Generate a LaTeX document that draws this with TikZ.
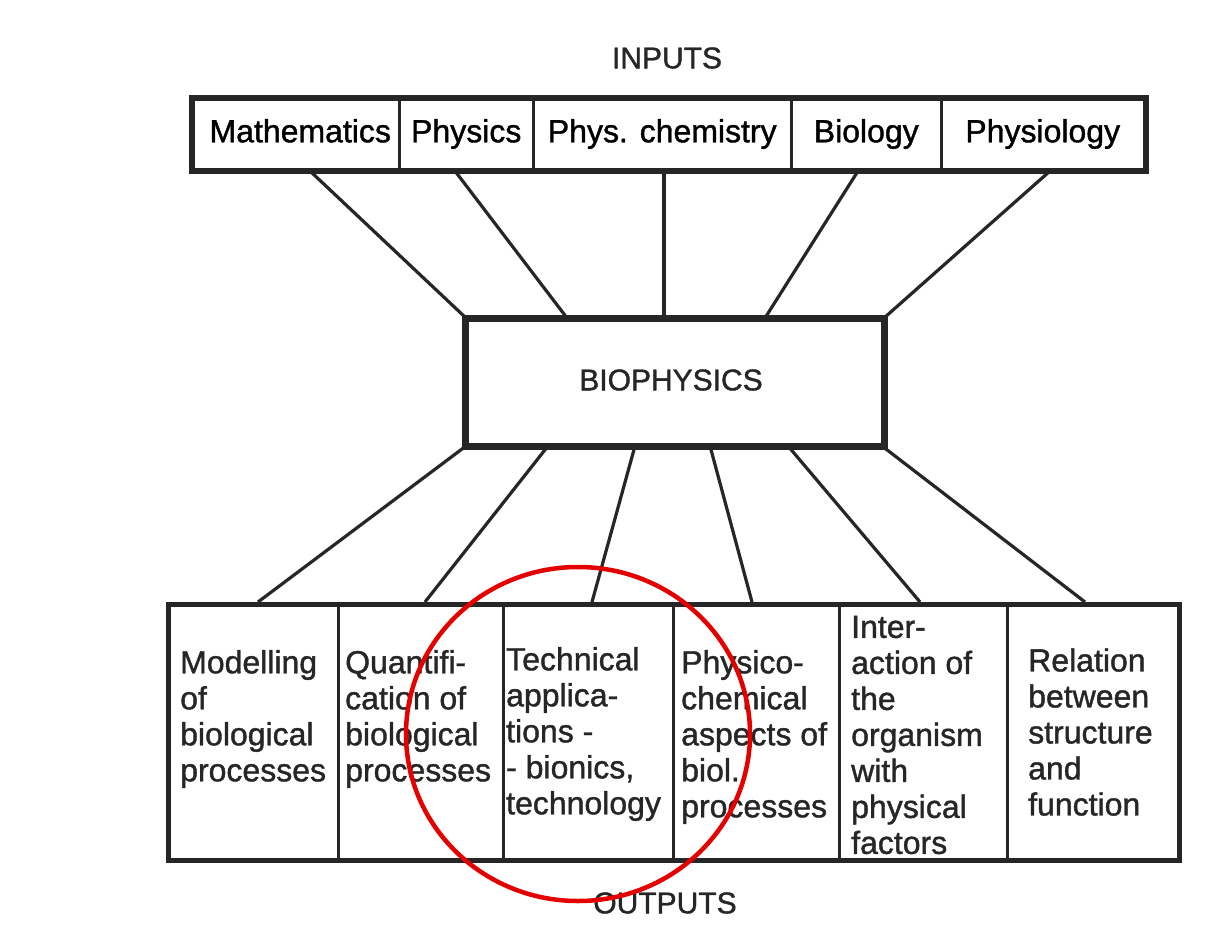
\documentclass[tikz,border=0pt]{standalone}
\usepackage{fontspec}
\setmainfont{Liberation Sans}[FakeBold=1.2]
\usetikzlibrary{fit}
\begin{document}
\begin{tikzpicture}[x=1pt,y=-1pt,
  cellbox/.style={draw=black!85, line width=2.5pt, inner sep=0pt, anchor=north west},
  topcell/.style={cellbox, minimum height=70pt, text height=23pt, text depth=7pt, font=\fontsize{32}{36}\selectfont},
  botcell/.style={cellbox, minimum height=254pt},
  celltext/.style={anchor=west, inner sep=0pt, align=left, text=black!85, font=\fontsize{32}{36}\selectfont},
  title/.style={inner sep=0pt, text=black!85, font=\fontsize{30}{36}\selectfont},
  link/.style={draw=black!85, line width=3.2pt},
  frame/.style={draw=black!85, inner sep=0pt}
]
\useasboundingbox (0,0) rectangle (1226,948);
\fill[white] (0,0) rectangle (1226,948);

% titles
\node[title] (inputs) at (667,58) {INPUTS};
\node[title] (outputs) at (665,903) {OUTPUTS};

% top cells
\node[topcell, minimum width=206pt] (math) at (192,98) {\hspace*{8pt}Mathematics};
\node[topcell, minimum width=134pt] (phys) at (398,98) {Physics};
\node[topcell, minimum width=258pt] (pchem) at (532,98) {Phys. chemistry};
\node[topcell, minimum width=150pt] (bio) at (790,98) {Biology};
\node[topcell, minimum width=203pt] (physio) at (940,98) {Physiology};
\node[frame, line width=6pt, fit=(math)(physio)] (inbox) {};

% biophysics
\node[frame, line width=7pt, minimum width=419pt, minimum height=128pt] (biophys) at (674.5,382) {};
\node[title] (biolabel) at (671,380) {BIOPHYSICS};

% bottom cells
\node[botcell, minimum width=169pt] (o1) at (168,604) {};
\node[botcell, minimum width=165pt] (o2) at (337,604) {};
\node[botcell, minimum width=170pt] (o3) at (502,604) {};
\node[botcell, minimum width=166pt] (o4) at (672,604) {};
\node[botcell, minimum width=168pt] (o5) at (838,604) {};
\node[botcell, minimum width=171pt] (o6) at (1006,604) {};
\node[frame, line width=4pt, fit=(o1)(o6)] (outbox) {};

\node[celltext] (o1t) at (180,719) {Modelling\\of\\biological\\processes};
\node[celltext] (o2t) at (345,719) {Quantifi-\\cation of\\biological\\processes};
\node[celltext] (o3t) at (506,734) {Technical\\applica-\\tions -\\- bionics,\\technology};
\node[celltext] (o4t) at (681,737) {Physico-\\chemical\\aspects of\\biol.\\processes};
\node[celltext] (o5t) at (851,735) {Inter-\\action of\\the\\organism\\with\\physical\\factors};
\node[celltext] (o6t) at (1028,732) {Relation\\between\\structure\\and\\function};

% connector end points
\coordinate (t1) at (310,171);
\coordinate (t2) at (455,171);
\coordinate (t3) at (664,171);
\coordinate (t4) at (858,171);
\coordinate (t5) at (1050,171);
\coordinate (b1) at (466,318);
\coordinate (b2) at (567,318);
\coordinate (b3) at (664,318);
\coordinate (b4) at (765,318);
\coordinate (b5) at (884,318);
\coordinate (d1) at (466,446);
\coordinate (d2) at (548,446);
\coordinate (d3) at (635,446);
\coordinate (d4) at (710,446);
\coordinate (d5) at (788,446);
\coordinate (d6) at (882,446);
\coordinate (e1) at (258,602);
\coordinate (e2) at (425,602);
\coordinate (e3) at (592,602);
\coordinate (e4) at (752,602);
\coordinate (e5) at (920,602);
\coordinate (e6) at (1085,602);

\draw[link] (t1) -- (b1);
\draw[link] (t2) -- (b2);
\draw[link] (t3) -- (b3);
\draw[link] (t4) -- (b4);
\draw[link] (t5) -- (b5);
\draw[link] (d1) -- (e1);
\draw[link] (d2) -- (e2);
\draw[link] (d3) -- (e3);
\draw[link] (d4) -- (e4);
\draw[link] (d5) -- (e5);
\draw[link] (d6) -- (e6);

% red circle
\draw[red!90!black, line width=4.5pt] (578,734) ellipse (172pt and 167pt);
\end{tikzpicture}
\end{document}
